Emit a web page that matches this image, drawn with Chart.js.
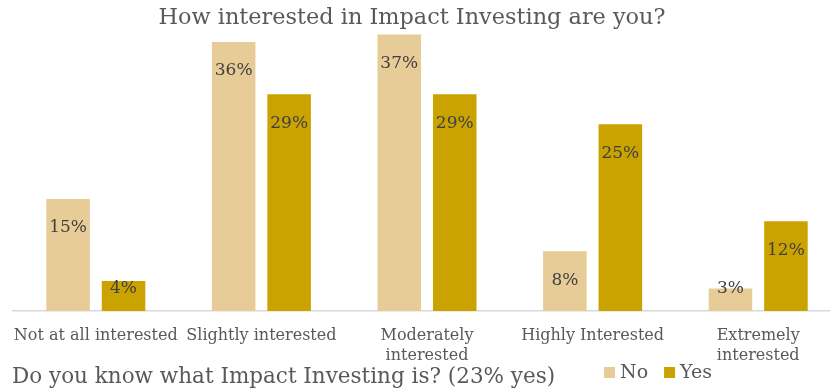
<!DOCTYPE html>
<html>
<head>
<meta charset="utf-8">
<script src="https://cdn.jsdelivr.net/npm/chart.js@4.4.1/dist/chart.umd.min.js"></script>
<style>
  html, body { margin: 0; padding: 0; background: #ffffff; overflow: hidden; }
  #wrap { position: relative; width: 845px; height: 390px; }
</style>
</head>
<body>
<div id="wrap"><canvas id="c" width="845" height="390"></canvas></div>
<script>
// Survey answers, share of respondents (%)
const categories = [
  'Not at all interested',
  'Slightly interested',
  ['Moderately', 'interested'],
  'Highly Interested',
  ['Extremely', 'interested']
];
const noValues = [15, 36, 37, 8, 3];
const yesValues = [4, 29, 29, 25, 12];
const seriesNames = ['No', 'Yes'];

const titleText = 'How interested in Impact Investing are you?';
const noteText = 'Do you know what Impact Investing is? (23% yes)';

const FONT = "'DejaVu Serif', serif";
const TEXT = '#595959';
const COLORS = ['#E8CC98', '#CBA300'];

// Value labels inside the top of each bar, plus title, note and legend
const decorations = {
  id: 'decorations',
  afterDatasetsDraw(chart) {
    const ctx = chart.ctx;
    const area = chart.chartArea;
    ctx.save();
    ctx.fillStyle = '#404040';
    ctx.font = '17px ' + FONT;
    ctx.textAlign = 'center';
    ctx.textBaseline = 'middle';
    chart.data.datasets.forEach((ds, i) => {
      chart.getDatasetMeta(i).data.forEach((bar, j) => {
        const y = Math.min(bar.y + 29, area.bottom - 22);
        ctx.fillText(ds.data[j] + '%', bar.x, y);
      });
    });
    ctx.restore();
  },
  afterDraw(chart) {
    const ctx = chart.ctx;
    ctx.save();
    ctx.fillStyle = TEXT;
    ctx.textBaseline = 'middle';
    // title
    ctx.textAlign = 'center';
    ctx.font = '22.4px ' + FONT;
    ctx.fillText(titleText, 412, 18);
    // note
    ctx.textAlign = 'left';
    ctx.font = '21.5px ' + FONT;
    ctx.fillText(noteText, 12, 377);
    // legend
    let x = 604;
    chart.data.datasets.forEach((ds) => {
      ctx.fillStyle = ds.backgroundColor;
      ctx.fillRect(x, 367, 11, 11);
      ctx.fillStyle = TEXT;
      ctx.font = '19px ' + FONT;
      ctx.fillText(ds.label, x + 16, 373);
      x += 16 + ctx.measureText(ds.label).width + 16;
    });
    ctx.restore();
  }
};

new Chart(document.getElementById('c'), {
  type: 'bar',
  data: {
    labels: categories,
    datasets: [
      { label: seriesNames[0], data: noValues, backgroundColor: COLORS[0] },
      { label: seriesNames[1], data: yesValues, backgroundColor: COLORS[1] }
    ]
  },
  options: {
    responsive: false,
    animation: false,
    events: [],
    layout: { padding: { top: 12, left: 13, right: 4, bottom: 9 } },
    datasets: { bar: { categoryPercentage: 0.67, barPercentage: 0.785 } },
    plugins: {
      legend: { display: false },
      title: { display: false },
      tooltip: { enabled: false }
    },
    scales: {
      x: {
        afterFit(scale) {
          // keep the plot edges fixed regardless of label overhang
          scale.paddingLeft = 0;
          scale.paddingRight = 0;
        },
        grid: { display: false, drawTicks: false },
        border: { display: true, color: '#D9D9D9', width: 1.5 },
        ticks: {
          color: TEXT,
          font: { family: FONT, size: 16, lineHeight: 1.25 },
          padding: 15,
          maxRotation: 0,
          autoSkip: false
        }
      },
      y: {
        display: false,
        min: 0,
        max: 40
      }
    }
  },
  plugins: [decorations]
});
</script>
</body>
</html>
